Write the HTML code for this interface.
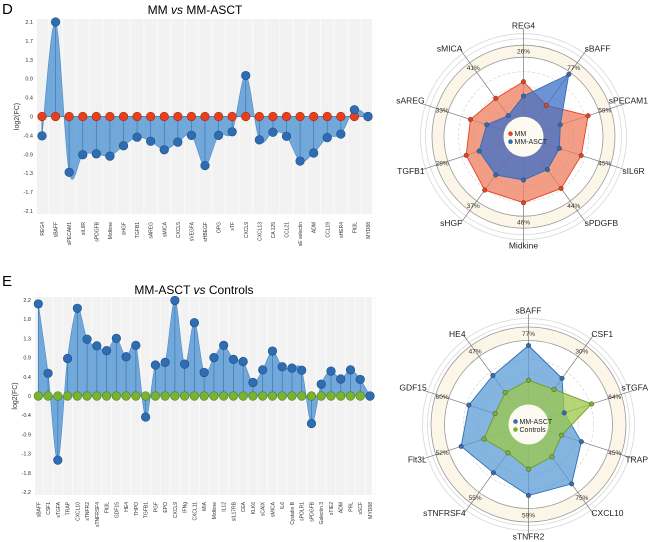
<!DOCTYPE html>
<html><head><meta charset="utf-8"><style>
body{margin:0;background:#fff;}
svg{display:block;font-family:"Liberation Sans",sans-serif;}
</style></head><body>
<svg id="s" width="650" height="542" viewBox="0 0 650 542">
<text x="2" y="14" font-size="15">D</text>
<text x="195" y="14" font-size="12" text-anchor="middle">MM <tspan font-style="italic">vs</tspan> MM-ASCT</text>
<text x="2" y="286" font-size="15">E</text>
<text x="194" y="294" font-size="12" text-anchor="middle">MM-ASCT <tspan font-style="italic">vs</tspan> Controls</text>
<g id="gD"></g>
<g id="gE"></g>
<g id="rD"></g>
<g id="rE"></g>
</svg>
<script>
const catsD=["REG4","sBAFF","sPECAM1","sIL6R","sPDGFB","Midkine","sHGF","TGFB1","sAREG","sMICA","CXCL5","sVEGFA","sHBEGF","OPG","sTF","CXCL9","CXCL13","CA 125","CCL21","sE selectin","ADM","CCL19","sHER4","Flt3L","MYD88"];
const valsD=[-0.43,2.1,-1.24,-0.85,-0.83,-0.88,-0.65,-0.46,-0.55,-0.74,-0.57,-0.42,-1.09,-0.42,-0.34,0.91,-0.52,-0.35,-0.44,-0.99,-0.81,-0.47,-0.39,0.15,0];
const ticksD=["2.1","1.7","1.3","0.9","0.4","0","-0.4","-0.9","-1.3","-1.7","-2.1"];
const catsE=["sBAFF","CSF1","sTGFA","TRAP","CXCL10","sTNFR2","sTNFRSF4","Flt3L","GDF15","HE4","THPO","TGFB1","PGF","EPO","CXCL9","IFNg","CXCL11","MIA","Midkine","IL12","sIL17RB","CEA","KLK6","sCAIX","sMICA","IL6","Cystatin B","sPOLR1","sPDGFB","Galectin 3","sTIE2","ADM","PRL","sSCF","MYD88"];
const valsE=[2.11,0.52,-1.47,0.86,2.01,1.30,1.15,1.04,1.32,0.90,1.16,-0.48,0.71,0.77,2.19,0.73,1.68,0.54,0.88,1.16,0.84,0.79,0.31,0.60,1.03,0.67,0.64,0.59,-0.63,0.27,0.57,0.39,0.60,0.38,0];
const ticksE=["2.2","1.8","1.3","0.9","0.4","0","-0.4","-0.9","-1.3","-1.8","-2.2"];
const radDAxes=["REG4","sBAFF","sPECAM1","sIL6R","sPDGFB","Midkine","sHGF","TGFB1","sAREG","sMICA"];
const radDPct=["26%","77%","59%","45%","44%","46%","37%","28%","33%","41%"];
const radDMM=[55,38.8,67.9,60.7,64,66,66,60.3,55.8,47.3];
const radDASCT=[40.7,77,38.7,37.7,40.7,43.3,47.3,46.7,38.7,26];
const radEAxes=["sBAFF","CSF1","sTGFA","TRAP","CXCL10","sTNFR2","sTNFRSF4","Flt3L","GDF15","HE4"];
const radEPct=["77%","30%","64%","45%","75%","59%","55%","52%","60%","47%"];
const radEASCT=[79,57,37.6,55.6,73.4,71,59.7,70.8,62.7,60.6];
const radECtrl=[44.3,43.4,66.4,34.8,40,44.7,35,46.8,35.2,39.5];

const NS="http://www.w3.org/2000/svg";
function mk(p,t,a){const e=document.createElementNS(NS,t);for(const k in a)e.setAttribute(k,a[k]);p.appendChild(e);return e;}
function spline(pts){let d="M"+pts[0][0]+","+pts[0][1];for(let i=0;i<pts.length-1;i++){const p0=pts[i-1]||pts[i],p1=pts[i],p2=pts[i+1],p3=pts[i+2]||p2;const c1=[p1[0]+(p2[0]-p0[0])/6,p1[1]+(p2[1]-p0[1])/6],c2=[p2[0]-(p3[0]-p1[0])/6,p2[1]-(p3[1]-p1[1])/6];d+=`C${c1[0]},${c1[1]} ${c2[0]},${c2[1]} ${p2[0]},${p2[1]}`;}return d;}

function lineChart(g,cats,vals,ticks,o){
  const {x0,x1,yT,yB,vmax,xf,xl,refCol,refStroke,lblY}=o;
  const y=v=>yT+(vmax-v)/(2*vmax)*(yB-yT);
  const x=i=>xf+i*(xl-xf)/(cats.length-1);
  const bg=mk(g,"rect",{x:x0,y:yT-3,width:x1-x0,height:yB-yT+6,fill:"#f2f2f2"});
  
  cats.forEach((c,i)=>{const l=mk(g,"line",{x1:x(i)+(xl-xf)/(cats.length-1)/2,x2:x(i)+(xl-xf)/(cats.length-1)/2,y1:yT-3,y2:yB+3,stroke:"#fafafa","stroke-width":1});
    });
  ticks.forEach((t,i)=>{const tv=vmax-i*(2*vmax)/(ticks.length-1);const tx=mk(g,"text",{x:x0-4,y:y(tv)+2,"font-size":5.5,"text-anchor":"end",fill:"#333"});tx.textContent=t;
    });
  const yl=mk(g,"text",{transform:`translate(${x0-18},${(yT+yB)/2}) rotate(-90)`,"font-size":7,"text-anchor":"middle",fill:"#333"});yl.textContent="log2(FC)";
  
  const pts=vals.map((v,i)=>[x(i),y(v)]);
  const z=y(0);
  const area=mk(g,"path",{d:spline(pts)+`L${x(cats.length-1)},${z}L${x(0)},${z}Z`,fill:"#5b9bd5","fill-opacity":0.85,stroke:"#4a8ac8","stroke-width":0.6});
  
  vals.forEach((v,i)=>{const s=mk(g,"line",{x1:x(i),x2:x(i),y1:z,y2:y(v),stroke:"#3b78b8","stroke-width":0.7});
    });
  const zl=mk(g,"line",{x1:x(0),x2:x(cats.length-1),y1:z,y2:z,stroke:"#3b78b8","stroke-width":0.7});
  
  vals.forEach((v,i)=>{
    const r=mk(g,"circle",{cx:x(i),cy:z,r:4.3,fill:refCol,stroke:refStroke,"stroke-width":0.6});
    
    const c=mk(g,"circle",{cx:x(i),cy:y(v),r:4.3,fill:"#2f6db3",stroke:"#1d4f88","stroke-width":0.6});
    
  });
  cats.forEach((c,i)=>{const t=mk(g,"text",{transform:`translate(${x(i)+2},${lblY}) rotate(-90)`,"font-size":5,"text-anchor":"end",fill:"#333"});t.textContent=c;
    });
}
lineChart(document.getElementById("gD"),catsD,valsD,ticksD,{x0:37,x1:372,yT:22,yB:211,vmax:2.1,xf:42,xl:368,refCol:"#e8401c",refStroke:"#a82a10",lblY:222});
lineChart(document.getElementById("gE"),catsE,valsE,ticksE,{x0:35,x1:372,yT:300,yB:492,vmax:2.2,xf:38.3,xl:370,refCol:"#7ab32e",refStroke:"#4f7f1a",lblY:502});

function radar(g,cx,cy,axes,pct,sA,sB,o){
  const n=axes.length;
  const pt=(i,r)=>{const a=-Math.PI/2+i*2*Math.PI/n;return [cx+r*Math.cos(a),cy+r*Math.sin(a)];};
  [o.o3,o.o2].forEach(r=>{const c=mk(g,"circle",{cx,cy,r,fill:"none",stroke:"#d8d8d8","stroke-width":0.8});});
  const band=mk(g,"circle",{cx,cy,r:(o.b0+o.b1)/2,fill:"none",stroke:"#fbf6e8","stroke-width":o.b1-o.b0});
  
  [o.b0,o.b1].forEach(r=>{const c=mk(g,"circle",{cx,cy,r,fill:"none",stroke:"#9a9a9a","stroke-width":0.8});});
  [35,50,65].forEach(r=>{const c=mk(g,"circle",{cx,cy,r,fill:"none",stroke:"#cfcfcf","stroke-width":0.6,"stroke-dasharray":"3,2"});});
  axes.forEach((a,i)=>{const p1=pt(i,20),p2=pt(i,o.o3+5);const l=mk(g,"line",{x1:p1[0],y1:p1[1],x2:p2[0],y2:p2[1],stroke:"#777","stroke-width":0.7});
    });
  [[sA,o.cA,o.sA,0.75],[sB,o.cB,o.sB,0.75]].forEach(([s,f,st,op],k)=>{
    const d=s.map((v,i)=>pt(i,v)).map((p,i)=>(i?"L":"M")+p[0]+","+p[1]).join("")+"Z";
    const p=mk(g,"path",{d,fill:f,"fill-opacity":op,stroke:st,"stroke-width":0.9});
    
  });
  [[sA,o.dA],[sB,o.dB]].forEach(([s,c])=>s.forEach((v,i)=>{const p=pt(i,v);const d=mk(g,"circle",{cx:p[0],cy:p[1],r:2.3,fill:c,stroke:"#333","stroke-width":0.4});
    }));
  const wc=mk(g,"circle",{cx,cy,r:20,fill:"#fdfaf2"});
  o.leg.forEach((L,k)=>{const yy=cy-3+k*8;const d=mk(g,"circle",{cx:cx-13,cy:yy,r:2.3,fill:L[1]});
    const t=mk(g,"text",{x:cx-9,y:yy+2.5,"font-size":7,fill:"#222"});t.textContent=L[0];});
  axes.forEach((a,i)=>{const p=pt(i,(o.b0+o.b1)/2);const t=mk(g,"text",{x:p[0],y:p[1]+2.3,"font-size":6.5,"text-anchor":"middle",fill:"#333"});t.textContent=pct[i];
    
    const ang=i*360/n;let anc="middle",rr=o.o3+8,dy=3;
    if(ang>10&&ang<170){anc="start";rr=o.o3+1;dy=(ang<90)?-1:5;}
    if(ang>190&&ang<350){anc="end";rr=o.o3+1;dy=(ang>270)?-1:5;}
    if(ang===180){rr=o.o3+2;dy=7;}
    const q=pt(i,rr);
    const l=mk(g,"text",{x:q[0],y:q[1]+dy,"font-size":8.5,"text-anchor":anc,fill:"#222"});l.textContent=a;
    
    if(anc==="start"){const w=l.getComputedTextLength();if(q[0]+w>648)l.setAttribute('x',648-w);}
  });
}
radar(document.getElementById("rD"),523.5,136.7,radDAxes,radDPct,radDMM,radDASCT,{b0:79.5,b1:91.5,o2:98,o3:103,cA:"#ee7c5e",sA:"#e8401c",cB:"#3b6fc8",sB:"#2f6db3",dA:"#e8401c",dB:"#2f6db3",leg:[["MM","#e8401c"],["MM-ASCT","#2f6db3"]]});
radar(document.getElementById("rE"),528.5,424.5,radEAxes,radEPct,radEASCT,radECtrl,{b0:84,b1:97.5,o2:101,o3:106,cA:"#5b9bd5",sA:"#2f6db3",cB:"#9cc84a",sB:"#6a9e22",dA:"#2f6db3",dB:"#7ab32e",leg:[["MM-ASCT","#2f6db3"],["Controls","#7ab32e"]]});
</script>
</body></html>
